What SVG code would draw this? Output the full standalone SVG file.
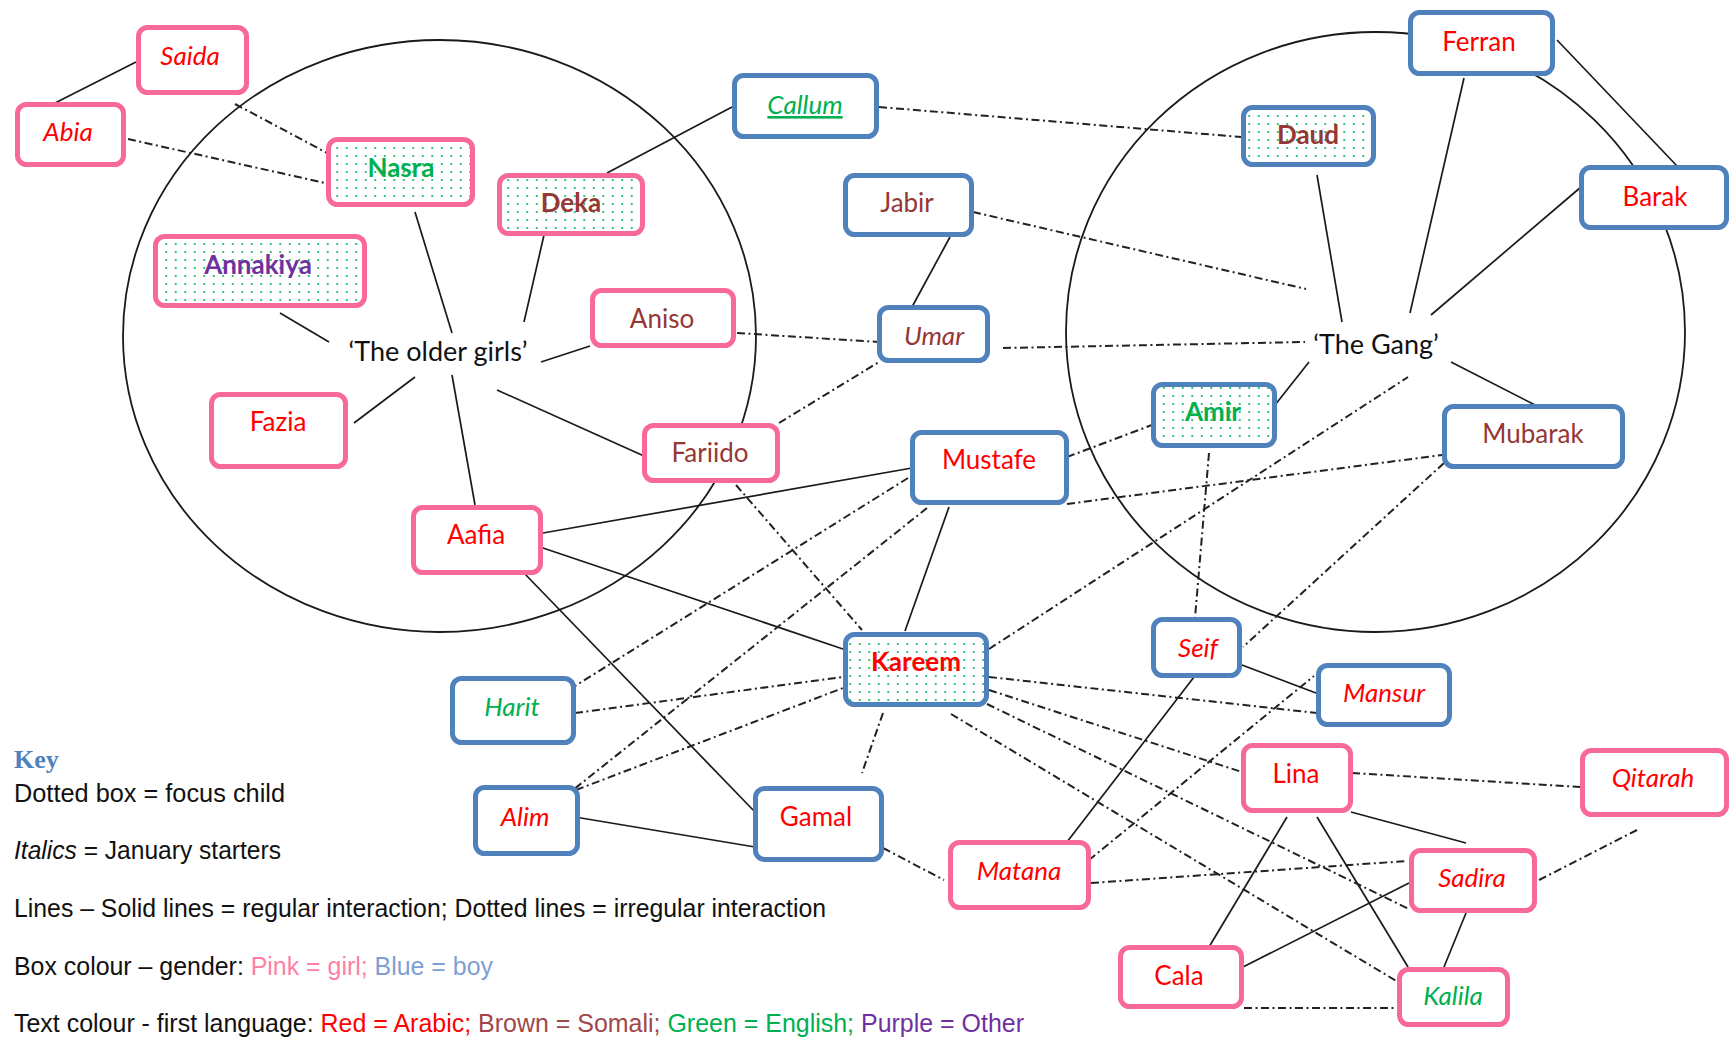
<svg xmlns="http://www.w3.org/2000/svg" width="1731" height="1039" viewBox="0 0 1731 1039">
<style>
.bx rect{stroke-width:5;fill:#fff}
.g rect{stroke:#F8699B}
.b rect{stroke:#4F81BD}
.f rect{fill:url(#dots)}
.lbl{font-family:Lato,"Open Sans",sans-serif;font-size:26px;text-anchor:middle}
.red{fill:#FF0000}.brn{fill:#953735}.grn{fill:#00B050}.pur{fill:#7030A0}
.it{font-style:italic}.bd{font-weight:bold}
.ring{fill:none;stroke:#1a1a1a;stroke-width:1.8}
.s{stroke:#1a1a1a;stroke-width:1.7;fill:none}
.d{stroke:#222;stroke-width:2;stroke-dasharray:8 3.5 2 3.5;fill:none}
.grp{font-family:Lato,"Open Sans",sans-serif;font-size:27px;fill:#111;text-anchor:middle}
.key{font-family:"Liberation Sans",Arial,sans-serif;font-size:25px;fill:#111}
</style>
<defs>
<pattern id="dots" width="9.5" height="8" patternUnits="userSpaceOnUse">
<rect width="9.5" height="8" fill="#fff"/>
<circle cx="4.75" cy="4" r="1" fill="#00B050"/>
</pattern>
</defs>
<rect width="1731" height="1039" fill="#fff"/>

<g id="groups">
<ellipse class="ring" cx="439.5" cy="336" rx="316.5" ry="296"/>
<ellipse class="ring" cx="1375.5" cy="332" rx="309.5" ry="300"/>
<text class="grp" x="438" y="361" font-size="28.5">‘The older girls’</text>
<text class="grp" x="1376" y="354">‘The Gang’</text>
</g>

<g id="connectors">
<line class="s" x1="136" y1="62" x2="55" y2="103"/>
<line class="s" x1="732" y1="107" x2="607" y2="173"/>
<line class="s" x1="415" y1="212" x2="452" y2="333"/>
<line class="s" x1="544" y1="235" x2="524" y2="322"/>
<line class="s" x1="280" y1="313" x2="329" y2="342"/>
<line class="s" x1="590" y1="346" x2="541" y2="362"/>
<line class="s" x1="354" y1="423" x2="415" y2="377"/>
<line class="s" x1="475" y1="505" x2="452" y2="375"/>
<line class="s" x1="497" y1="390" x2="644" y2="456"/>
<line class="s" x1="950" y1="237" x2="912" y2="307"/>
<line class="s" x1="543" y1="533" x2="912" y2="468"/>
<line class="s" x1="540" y1="547" x2="843" y2="649"/>
<line class="s" x1="524" y1="573" x2="755" y2="812"/>
<line class="s" x1="949" y1="507" x2="905" y2="631"/>
<line class="s" x1="575" y1="817" x2="755" y2="847"/>
<line class="s" x1="1317" y1="175" x2="1342" y2="322"/>
<line class="s" x1="1464" y1="78" x2="1410" y2="313"/>
<line class="s" x1="1581" y1="187" x2="1431" y2="315"/>
<line class="s" x1="1557" y1="40" x2="1678" y2="167"/>
<line class="s" x1="1309" y1="362" x2="1275" y2="405"/>
<line class="s" x1="1451" y1="362" x2="1535" y2="405"/>
<line class="s" x1="1242" y1="665" x2="1316" y2="693"/>
<line class="s" x1="1194" y1="677" x2="1067" y2="842"/>
<line class="s" x1="1351" y1="812" x2="1466" y2="843"/>
<line class="s" x1="1287" y1="817" x2="1209" y2="947"/>
<line class="s" x1="1317" y1="817" x2="1408" y2="967"/>
<line class="s" x1="1409" y1="883" x2="1243" y2="967"/>
<line class="s" x1="1466" y1="913" x2="1444" y2="967"/>

<line class="d" x1="235" y1="104" x2="327" y2="153"/>
<line class="d" x1="128" y1="139" x2="325" y2="183"/>
<line class="d" x1="879" y1="107" x2="1241" y2="137"/>
<line class="d" x1="973" y1="212" x2="1306" y2="289"/>
<line class="d" x1="737" y1="333" x2="879" y2="342"/>
<line class="d" x1="1003" y1="348" x2="1305" y2="342"/>
<line class="d" x1="779" y1="423" x2="879" y2="362"/>
<line class="d" x1="736" y1="485" x2="862" y2="630"/>
<line class="d" x1="908" y1="478" x2="575" y2="686"/>
<line class="d" x1="927" y1="508" x2="573" y2="790"/>
<line class="d" x1="575" y1="713" x2="843" y2="677"/>
<line class="d" x1="576" y1="790" x2="843" y2="688"/>
<line class="d" x1="883" y1="713" x2="862" y2="773"/>
<line class="d" x1="883" y1="848" x2="944" y2="880"/>
<line class="d" x1="1067" y1="457" x2="1152" y2="425"/>
<line class="d" x1="1067" y1="504" x2="1442" y2="455"/>
<line class="d" x1="989" y1="649" x2="1408" y2="377"/>
<line class="d" x1="1209" y1="453" x2="1195" y2="618"/>
<line class="d" x1="1444" y1="463" x2="1243" y2="647"/>
<line class="d" x1="989" y1="677" x2="1317" y2="713"/>
<line class="d" x1="989" y1="690" x2="1242" y2="772"/>
<line class="d" x1="987" y1="704" x2="1409" y2="909"/>
<line class="d" x1="951" y1="714" x2="1398" y2="982"/>
<line class="d" x1="1089" y1="860" x2="1314" y2="676"/>
<line class="d" x1="1091" y1="883" x2="1407" y2="861"/>
<line class="d" x1="1352" y1="773" x2="1580" y2="787"/>
<line class="d" x1="1637" y1="830" x2="1539" y2="880"/>
<line class="d" x1="1244" y1="1008" x2="1397" y2="1008"/>
</g>

<g id="saida" class="bx g"><rect x="138.5" y="27.5" width="108" height="65" rx="9"/><text class="lbl red it" x="190" y="65">Saida</text></g>
<g id="abia" class="bx g"><rect x="17.5" y="104.5" width="106" height="60" rx="9"/><text class="lbl red it" x="68" y="141">Abia</text></g>
<g id="nasra" class="bx g f"><rect x="328.5" y="139.5" width="144" height="65" rx="9"/><text class="lbl grn bd" x="401" y="177">Nasra</text></g>
<g id="deka" class="bx g f"><rect x="499.5" y="175.5" width="143" height="58" rx="9"/><text class="lbl brn bd" x="571" y="212">Deka</text></g>
<g id="annakiya" class="bx g f"><rect x="155.5" y="236.5" width="209" height="69" rx="9"/><text class="lbl pur bd" x="258" y="274">Annakiya</text></g>
<g id="callum" class="bx b"><rect x="734.5" y="75.5" width="142" height="61" rx="9"/><text class="lbl grn it" x="805" y="114" text-decoration="underline">Callum</text></g>
<g id="jabir" class="bx b"><rect x="845.5" y="175.5" width="126" height="59" rx="9"/><text class="lbl brn" x="907" y="212">Jabir</text></g>
<g id="aniso" class="bx g"><rect x="592.5" y="290.5" width="141" height="55" rx="9"/><text class="lbl brn" x="662" y="328">Aniso</text></g>
<g id="umar" class="bx b"><rect x="879.5" y="307.5" width="108" height="53" rx="9"/><text class="lbl brn it" x="934" y="345">Umar</text></g>
<g id="fazia" class="bx g"><rect x="211.5" y="394.5" width="134" height="72" rx="9"/><text class="lbl red" x="278" y="431">Fazia</text></g>
<g id="fariido" class="bx g"><rect x="644.5" y="425.5" width="133" height="55" rx="9"/><text class="lbl brn" x="710" y="462">Fariido</text></g>
<g id="mustafe" class="bx b"><rect x="912.5" y="432.5" width="154" height="70" rx="9"/><text class="lbl red" x="989" y="469">Mustafe</text></g>
<g id="aafia" class="bx g"><rect x="413.5" y="507.5" width="127" height="65" rx="9"/><text class="lbl red" x="476" y="544">Aafia</text></g>
<g id="daud" class="bx b f"><rect x="1243.5" y="107.5" width="130" height="57" rx="9"/><text class="lbl brn bd" x="1308" y="144">Daud</text></g>
<g id="ferran" class="bx b"><rect x="1410.5" y="12.5" width="142" height="61" rx="9"/><text class="lbl red" x="1479" y="51">Ferran</text></g>
<g id="barak" class="bx b"><rect x="1581.5" y="167.5" width="145" height="60" rx="9"/><text class="lbl red" x="1655" y="206">Barak</text></g>
<g id="amir" class="bx b f"><rect x="1153.5" y="384.5" width="121" height="61" rx="9"/><text class="lbl grn bd" x="1213" y="421">Amir</text></g>
<g id="mubarak" class="bx b"><rect x="1444.5" y="406.5" width="178" height="60" rx="9"/><text class="lbl brn" x="1533" y="443">Mubarak</text></g>
<g id="kareem" class="bx b f"><rect x="845.5" y="634.5" width="141" height="70" rx="9"/><text class="lbl red bd" x="916" y="671">Kareem</text></g>
<g id="seif" class="bx b"><rect x="1153.5" y="619.5" width="86" height="56" rx="9"/><text class="lbl red it" x="1198" y="657">Seif</text></g>
<g id="mansur" class="bx b"><rect x="1318.5" y="665.5" width="131" height="59" rx="9"/><text class="lbl red it" x="1384" y="702">Mansur</text></g>
<g id="harit" class="bx b"><rect x="452.5" y="678.5" width="121" height="64" rx="9"/><text class="lbl grn it" x="512" y="716">Harit</text></g>
<g id="alim" class="bx b"><rect x="475.5" y="787.5" width="102" height="66" rx="9"/><text class="lbl red it" x="525" y="826">Alim</text></g>
<g id="gamal" class="bx b"><rect x="755.5" y="788.5" width="126" height="71" rx="9"/><text class="lbl red" x="816" y="826">Gamal</text></g>
<g id="matana" class="bx g"><rect x="950.5" y="842.5" width="138" height="65" rx="9"/><text class="lbl red it" x="1019" y="880">Matana</text></g>
<g id="lina" class="bx g"><rect x="1243.5" y="745.5" width="107" height="65" rx="9"/><text class="lbl red" x="1296" y="783">Lina</text></g>
<g id="qitarah" class="bx g"><rect x="1582.5" y="750.5" width="144" height="64" rx="9"/><text class="lbl red it" x="1653" y="787">Qitarah</text></g>
<g id="sadira" class="bx g"><rect x="1411.5" y="850.5" width="123" height="60" rx="9"/><text class="lbl red it" x="1472" y="887">Sadira</text></g>
<g id="cala" class="bx g"><rect x="1120.5" y="947.5" width="121" height="59" rx="9"/><text class="lbl red" x="1179" y="985">Cala</text></g>
<g id="kalila" class="bx g"><rect x="1399.5" y="969.5" width="108" height="55" rx="9"/><text class="lbl grn it" x="1453" y="1005">Kalila</text></g>

<g id="key">
<text x="14" y="768" font-family="'Liberation Serif',serif" font-weight="bold" font-size="26" fill="#4F81BD">Key</text>
<text class="key" x="14" y="802" textLength="271" lengthAdjust="spacingAndGlyphs">Dotted box = focus child</text>
<text class="key" x="14" y="859" textLength="267" lengthAdjust="spacingAndGlyphs"><tspan font-style="italic">Italics</tspan> = January  starters</text>
<text class="key" x="14" y="917" textLength="812" lengthAdjust="spacingAndGlyphs">Lines – Solid lines = regular interaction; Dotted lines = irregular interaction</text>
<text class="key" x="14" y="975" textLength="479" lengthAdjust="spacingAndGlyphs">Box colour – gender: <tspan fill="#FF7FA6">Pink = girl;</tspan> <tspan fill="#7F9FD3">Blue = boy</tspan></text>
<text class="key" x="14" y="1032" textLength="1010" lengthAdjust="spacingAndGlyphs">Text colour - first language: <tspan fill="#FF0000">Red = Arabic;</tspan> <tspan fill="#A0474A">Brown = Somali;</tspan> <tspan fill="#00B050">Green = English;</tspan> <tspan fill="#7030A0">Purple = Other</tspan></text>
</g>
</svg>
